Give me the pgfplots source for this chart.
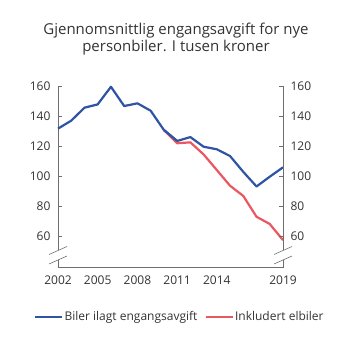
\documentclass[border=0pt]{standalone}
\usepackage{pgfplots}
\pgfplotsset{compat=1.18}
\usepackage{fontspec}
\setmainfont{Open Sans}
\definecolor{cblue}{HTML}{2E54A3}
\definecolor{cred}{HTML}{EB5761}
\definecolor{axgray}{HTML}{6E6E6E}
\definecolor{txt}{HTML}{333333}
\begin{document}
\begin{tikzpicture}[x=1pt,y=1pt]
\path[use as bounding box] (0pt,0pt) rectangle (353pt,353pt);
\pgfplotsset{
  common/.style={
    at={(58pt,85.3pt)}, anchor=south west, scale only axis,
    width=225pt, height=181.7pt,
    xmin=2002, xmax=2019, ymin=39.4, ymax=160,
    ytick={60,80,100,120,140,160},
    tick style={axgray, line width=0.6pt},
    major tick length=4pt,
    tick align=inside,
    axis line style={axgray, line width=0.6pt, -},
    every tick label/.append style={font=\fontsize{12}{14}\selectfont, text=txt},
    /pgf/number format/assume math mode=true,
    /pgf/number format/1000 sep={},
    clip=false,
  }
}
\begin{axis}[common,
  axis x line*=bottom, axis y line*=left,
  xtick={2002,2005,2008,2011,2014,2019},
  xticklabel style={yshift=-5pt},
  x tick style={draw=none},
  yticklabel style={xshift=-4pt},
  legend style={at={(0.54,-0.27)}, anchor=center, draw=none, fill=none,
    legend columns=2, font=\fontsize{12}{14}\selectfont, text=txt,
    nodes={inner sep=1.2pt},
    /tikz/every even column/.append style={column sep=6pt}},
  legend image code/.code={\draw[#1, line width=2.2pt] (0pt,0pt) -- (27pt,0pt);},
  legend cell align=left,
]
\addplot[cblue, line width=2.2pt, line join=round] coordinates {
(2002,131.7) (2003,137) (2004,145.6) (2005,147.8) (2006,159.5) (2007,146.7)
(2008,148.5) (2009,143.6) (2010,130.8) (2011,123.5) (2012,126.1) (2013,119.7)
(2014,118) (2015,113.5) (2016,103) (2017,93.3) (2018,99.8) (2019,106)
};
\addlegendentry{Biler ilagt engangsavgift}
\addplot[cred, line width=2.2pt, line join=round] coordinates {
(2010,130.8) (2011,122) (2012,122.6) (2013,114.6) (2014,104.2) (2015,93.8)
(2016,87) (2017,73.2) (2018,68.4) (2019,57.7)
};
\addlegendentry{Inkludert elbiler}
\addplot[cblue, line width=2.2pt, line join=round, forget plot] coordinates {
(2010,130.8) (2011,123.5)
};
\end{axis}
\begin{axis}[common,
  axis x line=none, axis y line*=right,
  yticklabel style={xshift=4pt},
]
\end{axis}
% axis breaks
\foreach \ax in {58,283}{
  \fill[white] (\ax pt-9pt,353pt-254.5pt) -- (\ax pt+9pt,353pt-246.5pt) -- (\ax pt+9pt,353pt-256pt) -- (\ax pt-9pt,353pt-264pt) -- cycle;
  \draw[axgray, line width=0.6pt] (\ax pt-9pt,353pt-254.5pt) -- (\ax pt+9pt,353pt-246.5pt);
  \draw[axgray, line width=0.6pt] (\ax pt-9pt,353pt-264pt) -- (\ax pt+9pt,353pt-256pt);
}
\node[align=center, font=\fontsize{15}{17.5}\selectfont, text=txt] at (176pt,353pt-39pt)
  {Gjennomsnittlig engangsavgift for nye\\personbiler. I tusen kroner};
\end{tikzpicture}
\end{document}
